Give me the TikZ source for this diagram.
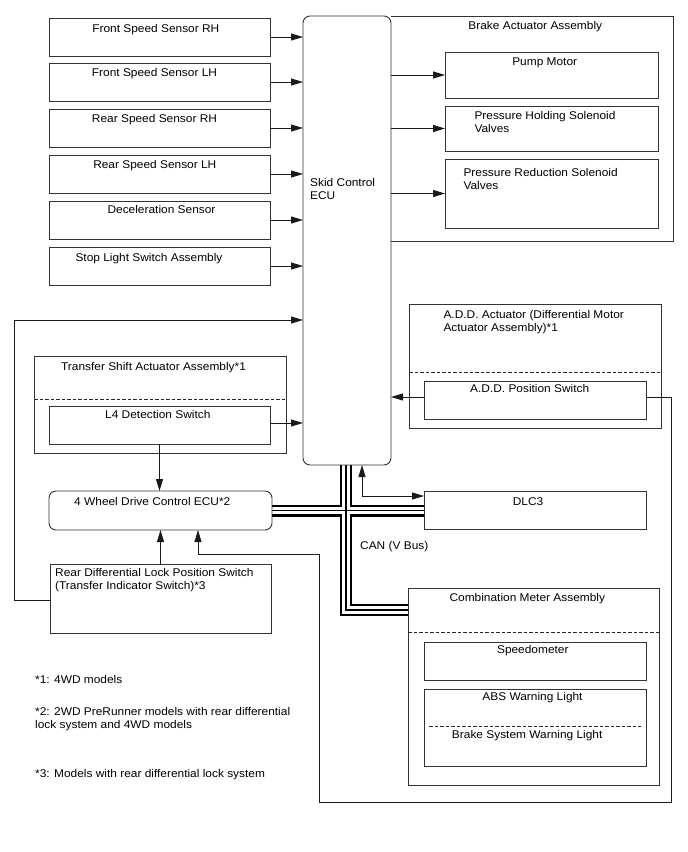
\documentclass[tikz,border=0pt]{standalone}
\usepackage{fontspec}
\setmainfont{Liberation Sans}[FakeStretch=1.063]
\usetikzlibrary{arrows.meta,backgrounds}
\newcommand\myfs{\fontsize{11.2}{13.4}\selectfont}
\newcommand\mybox[6][]{\node[box,#1,minimum width={(#5-#3)*1pt},minimum height={(#6-#4)*1pt}] (#2) at (#3,#4) {};}
\begin{document}
\begin{tikzpicture}[x=1pt,y=-1pt,font=\myfs,
  box/.style={draw=black!80,line width=0.9pt,inner sep=0pt,outer sep=0pt,anchor=north west},
  rbox/.style={rounded corners=7pt},
  ghost/.style={draw=none},
  t/.style={inner sep=0pt,anchor=base},
  tl/.style={inner sep=0pt,anchor=north west,align=left},
  tb/.style={inner sep=0pt,anchor=base west},
  arr/.style={draw=black!90,line width=0.9pt,-{Triangle[length=12pt,width=7pt]}},
  arrb/.style={draw=black!90,line width=0.9pt,{Triangle[length=12pt,width=7pt]}-{Triangle[length=12pt,width=7pt]}},
  ln/.style={draw=black!80,line width=0.9pt},
  dsh/.style={draw=black!85,line width=0.9pt,dash pattern=on 3.5pt off 2pt}]
\useasboundingbox (0,0) rectangle (688,852);

% boxes
\mybox{fsrh}{49}{18}{270}{56}
\mybox{fslh}{49}{63}{270}{101}
\mybox{rsrh}{49}{109}{270}{147}
\mybox{rslh}{49}{155}{270}{193}
\mybox{decel}{49}{201}{270}{239}
\mybox{stop}{49}{247}{270}{285}
\mybox[rbox]{ecu}{303}{16}{391}{465}
\mybox[ghost]{brake}{391}{16}{673}{241}
\draw[ln] (brake.north west) -- (brake.north east) -- (brake.south east) -- (brake.south west);
\mybox{pump}{445}{52}{658}{98}
\mybox{ph}{445}{106}{658}{151}
\mybox{pr}{445}{159}{658}{228}
\mybox{tsa}{34}{356}{286}{453}
\mybox{l4}{49}{406}{270}{444}
\mybox{add}{409}{304}{661}{428}
\mybox{adds}{424}{381}{646}{419}
\mybox[rbox]{wd}{49}{491}{272}{530}
\mybox{dlc}{424}{491}{646}{529}
\mybox{rdl}{50}{564}{271}{633}
\mybox{comb}{408}{588}{659}{785}
\mybox{speedo}{424}{642}{646}{680}
\mybox{abs}{424}{689}{646}{766}

% dashed separators
\draw[dsh] (34,399) -- (286,399);
\draw[dsh] (409,372) -- (661,372);
\draw[dsh] (408,632) -- (659,632);
\draw[dsh] (429,726) -- (641,726);

% texts
\node[t] (fsrh-t) at (155.8,32) {Front Speed Sensor RH};
\node[t] (fslh-t) at (154.5,76) {Front Speed Sensor LH};
\node[t] (rsrh-t) at (154.5,122) {Rear Speed Sensor RH};
\node[t] (rslh-t) at (154.8,168) {Rear Speed Sensor LH};
\node[t] (decel-t) at (161.5,213) {Deceleration Sensor};
\node[t] (stop-t) at (149,261) {Stop Light Switch Assembly};
\node[t] (brake-t) at (535.3,29) {Brake Actuator Assembly};
\node[t] (pump-t) at (544.7,65) {Pump Motor};
\node[tl] (ph-t) at (474.3,110.8) {Pressure Holding Solenoid\\Valves};
\node[tl] (pr-t) at (463.3,167.8) {Pressure Reduction Solenoid\\Valves};
\node[tl] (ecu-t) at (310,177.8) {Skid Control\\ECU};
\node[t] (tsa-t) at (153.5,370) {Transfer Shift Actuator Assembly*1};
\node[t] (l4-t) at (157.8,418) {L4 Detection Switch};
\node[t] (wd-t) at (152.3,505) {4 Wheel Drive Control ECU*2};
\node[tl] (rdl-t) at (55,567.8) {Rear Differential Lock Position Switch\\(Transfer Indicator Switch)*3};
\node[tl] (add-t) at (443.3,309.8) {A.D.D. Actuator (Differential Motor\\Actuator Assembly)*1};
\node[t] (adds-t) at (529.7,392) {A.D.D. Position Switch};
\node[t] (dlc-t) at (528,505) {DLC3};
\node[tb] (can-t) at (360,549) {CAN (V Bus)};
\node[t] (comb-t) at (527.3,601.7) {Combination Meter Assembly};
\node[t] (speedo-t) at (532.8,653) {Speedometer};
\node[t] (abs-t) at (532.5,700.7) {ABS Warning Light};
\node[t] (bsw-t) at (527.2,738) {Brake System Warning Light};
\node[tb] (n1) at (35,683) {*1: 4WD models};
\node[tl] (n2) at (35,706.8) {*2: 2WD PreRunner models with rear differential\\lock system and 4WD models};
\node[tb] (n3) at (35,777) {*3: Models with rear differential lock system};

% connectors
\foreach \n in {fsrh,fslh,rsrh,rslh,decel,stop}
  \draw[arr] (\n.east) -- (\n.east -| ecu.west);
\foreach \n in {pump,ph,pr}
  \draw[arr] (\n.west -| ecu.east) -- (\n.west);
\draw[arr] ([yshift=2pt]l4.east) -- ([yshift=2pt]l4.east -| ecu.west);
\draw[arr] (l4.south) -- (l4.south |- wd.north);
\draw[arr] ([yshift=3pt]adds.west) -- ([yshift=3pt]adds.west -| ecu.east);
\draw[arr] (rdl.north) -- (rdl.north |- wd.south);

\coordinate (lp1) at (14,600);
\coordinate (lp2) at (14,320);
\draw[arr] (rdl.west |- lp1) -- (lp1) -- (lp2) -- (lp2 -| ecu.west);

\coordinate (rl1) at (671,397);
\coordinate (rl2) at (671,802);
\coordinate (rl3) at (319,802);
\coordinate (rl4) at (319,554);
\coordinate (rl5) at (198,554);
\draw[arr] (adds.east |- rl1) -- (rl1) -- (rl2) -- (rl3) -- (rl4) -- (rl5) -- (rl5 |- wd.south);

\coordinate (dj) at (362,496);
\draw[arrb] (ecu.south -| dj) -- (dj) -- (dj -| dlc.west);

% CAN bus
\coordinate (cv) at (346,610);
\begin{scope}[on background layer]
\foreach \w/\c in {12pt/black,7.5pt/white,1.2pt/black}{
  \draw[line width=\w,draw=\c] (ecu.south -| cv) -- (cv) -- (cv -| comb.west);
  \draw[line width=\w,draw=\c] (wd.east) -- (wd.east -| dlc.west);
}
\end{scope}
\end{tikzpicture}
\end{document}
